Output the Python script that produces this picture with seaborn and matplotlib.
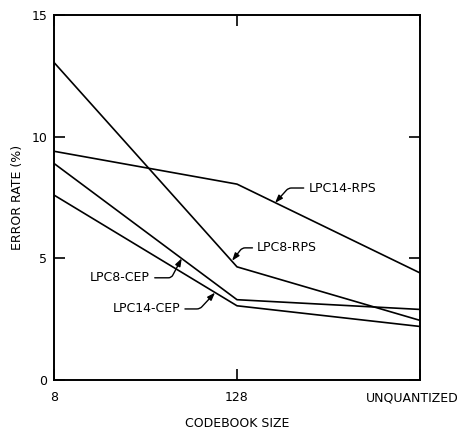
import seaborn as sns
import matplotlib.pyplot as plt
import matplotlib.transforms as mtransforms
import pandas as pd

# codebook sizes along the x axis
sizes = ["8", "128", "UNQUANTIZED"]

# error rate (%) for each feature set
lpc14_rps = [9.4, 8.05, 4.4]
lpc8_rps = [13.05, 4.65, 2.45]
lpc8_cep = [8.9, 3.3, 2.9]
lpc14_cep = [7.6, 3.05, 2.2]

names = ["LPC14-RPS", "LPC8-RPS", "LPC8-CEP", "LPC14-CEP"]
series = [lpc14_rps, lpc8_rps, lpc8_cep, lpc14_cep]

rows = []
for nm, vals in zip(names, series):
    for s, v in zip(sizes, vals):
        rows.append({"size": s, "rate": v, "feature": nm})
df = pd.DataFrame(rows)

sns.set_style("white")
plt.rcParams["font.family"] = ["DejaVu Sans"]
plt.rcParams["text.color"] = "black"
plt.rcParams["axes.labelcolor"] = "black"

fig = plt.figure(figsize=(4.59, 4.32), dpi=100)
ax = fig.add_axes([54 / 459, 52 / 432, 366 / 459, 365 / 432])

sns.lineplot(data=df, x="size", y="rate", hue="feature", hue_order=names,
             palette=["black"] * 4, linewidth=1.2, legend=False, ax=ax, sort=False)

ax.set_xlim(0, 2)
ax.set_ylim(0, 15)
ax.set_yticks([0, 5, 10, 15])
ax.set_xticks([0, 1, 2])
ax.set_xticklabels(sizes)

for sp in ax.spines.values():
    sp.set_linewidth(1.4)
    sp.set_color("black")

ax.tick_params(axis="both", direction="in", length=8, width=1.2, colors="black",
               labelsize=9, top=True, right=True, bottom=True, left=True)
ax.tick_params(axis="x", pad=8)
ax.tick_params(axis="y", pad=5)

# long label sits flush to the right edge of the figure
lab = ax.get_xticklabels()[-1]
lab.set_ha("right")
lab.set_transform(lab.get_transform() + mtransforms.ScaledTranslation(0.39, 0, fig.dpi_scale_trans))

ax.set_xlabel("CODEBOOK SIZE", fontsize=9, labelpad=9, color="black")
ax.set_ylabel("ERROR RATE (%)", fontsize=9, labelpad=5, color="black")

arrow = dict(arrowstyle="-|>,head_length=0.5,head_width=0.18", color="black", lw=1.0,
             shrinkA=1, shrinkB=0)

ax.annotate("LPC14-RPS", xy=(1.208, 7.28), xytext=(1.39, 7.89), fontsize=9, va="center", ha="left",
            arrowprops=dict(arrow, relpos=(0, 0.5), connectionstyle="angle,angleA=0,angleB=48,rad=3"))
ax.annotate("LPC8-RPS", xy=(0.973, 4.9), xytext=(1.11, 5.43), fontsize=9, va="center", ha="left",
            arrowprops=dict(arrow, relpos=(0, 0.5), connectionstyle="angle,angleA=0,angleB=52,rad=3"))
ax.annotate("LPC8-CEP", xy=(0.698, 5.0), xytext=(0.525, 4.2), fontsize=9, va="center", ha="right",
            arrowprops=dict(arrow, relpos=(1, 0.5), connectionstyle="angle,angleA=0,angleB=62,rad=3"))
ax.annotate("LPC14-CEP", xy=(0.88, 3.59), xytext=(0.69, 2.92), fontsize=9, va="center", ha="right",
            arrowprops=dict(arrow, relpos=(1, 0.5), connectionstyle="angle,angleA=0,angleB=47,rad=3"))

fig.savefig("out.png", dpi=100)
